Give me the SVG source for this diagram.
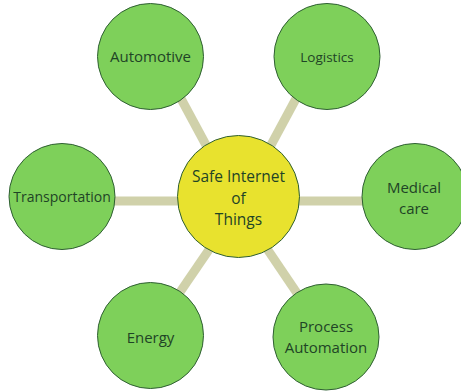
<svg xmlns="http://www.w3.org/2000/svg" width="461" height="391" viewBox="0 0 461 391">
  <style>
    .link { stroke: #d0d1aa; stroke-width: 9; stroke-linecap: butt; fill: none; }
    .leaf { fill: #7ed05a; stroke: #2f5f33; stroke-width: 1; }
    .hub { fill: #e8e22e; stroke: #2f5f33; stroke-width: 1; }
    text { font-family: "Open Sans", "Liberation Sans", sans-serif; fill: #1f4426; text-anchor: middle; }
    .lbl { font-size: 15px; }
    .hubtxt { font-size: 15.5px; }
  </style>
  <rect width="461" height="391" fill="#ffffff"/>

  <!-- spokes from the hub to each sector -->
  <g id="connectors">
    <line class="link" x1="158" y1="56" x2="234" y2="197"/>
    <line class="link" x1="319" y1="56" x2="243" y2="197"/>
    <line class="link" x1="62" y1="201" x2="239" y2="201"/>
    <line class="link" x1="239" y1="201" x2="414" y2="201"/>
    <line class="link" x1="150" y1="336" x2="245" y2="197"/>
    <line class="link" x1="326" y1="336" x2="232" y2="197"/>
  </g>

  <g id="hub">
    <circle class="hub" cx="238.5" cy="196.5" r="61"/>
    <text class="hubtxt" x="238.5" y="182">Safe Internet</text>
    <text class="hubtxt" x="238.5" y="203.5">of</text>
    <text class="hubtxt" x="238.5" y="225">Things</text>
  </g>

  <g id="automotive">
    <circle class="leaf" cx="150.5" cy="56.5" r="53"/>
    <text class="lbl" x="150.5" y="62">Automotive</text>
  </g>

  <g id="logistics">
    <circle class="leaf" cx="327" cy="56.5" r="53"/>
    <text class="lbl" x="327" y="62" style="font-size:13.5px">Logistics</text>
  </g>

  <g id="transportation">
    <circle class="leaf" cx="62" cy="196.5" r="53"/>
    <text class="lbl" x="62" y="202" style="font-size:14px">Transportation</text>
  </g>

  <g id="medical-care">
    <circle class="leaf" cx="415" cy="196.5" r="53"/>
    <text class="lbl" x="414" y="193">Medical</text>
    <text class="lbl" x="414" y="214">care</text>
  </g>

  <g id="energy">
    <circle class="leaf" cx="150.5" cy="335.5" r="53"/>
    <text class="lbl" x="150.5" y="343">Energy</text>
  </g>

  <g id="process-automation">
    <circle class="leaf" cx="326" cy="337" r="53"/>
    <text class="lbl" x="326" y="332">Process</text>
    <text class="lbl" x="326" y="353">Automation</text>
  </g>
</svg>
